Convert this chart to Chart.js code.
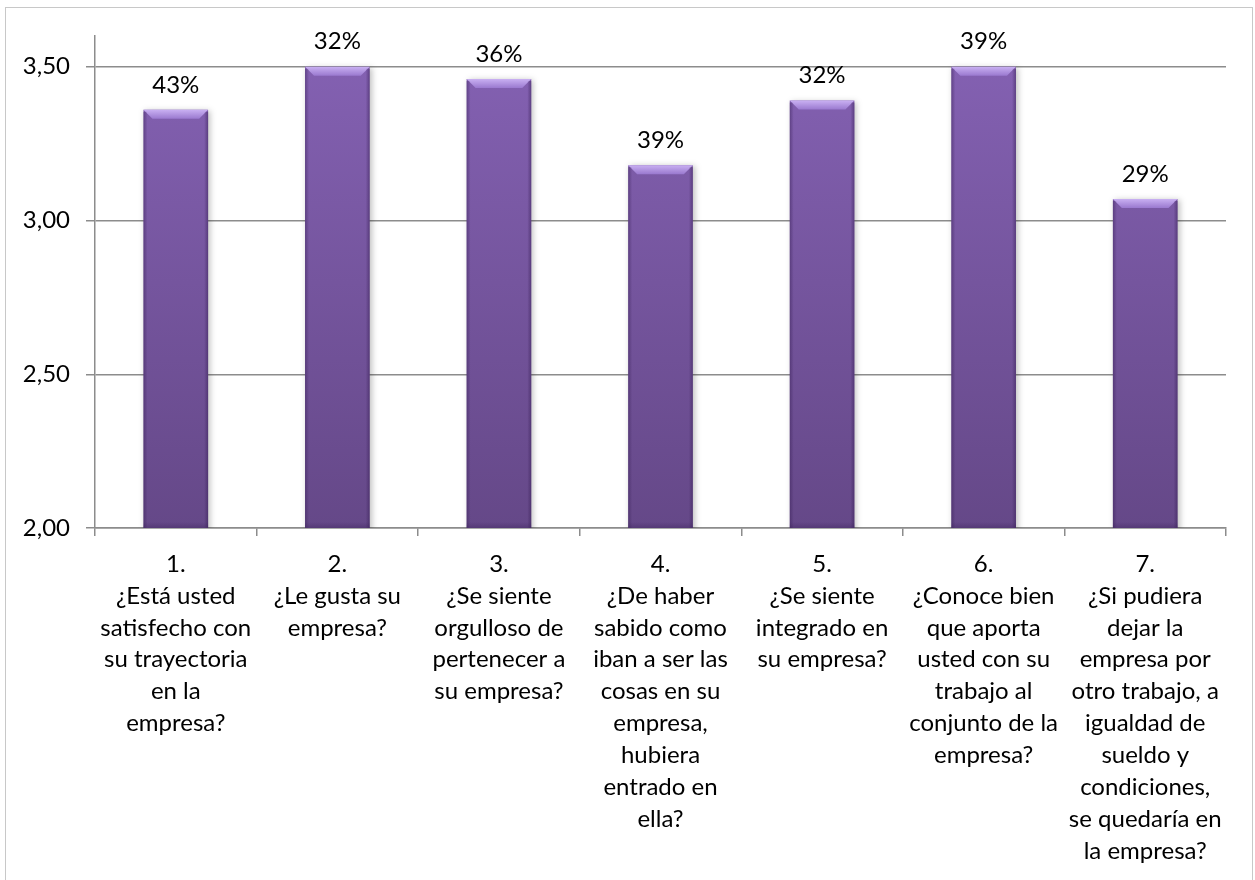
<!DOCTYPE html>
<html>
<head>
<meta charset="utf-8">
<script src="https://cdn.jsdelivr.net/npm/chart.js@4.4.1/dist/chart.umd.min.js"></script>
<style>
  html, body { margin: 0; padding: 0; background: #fff; }
  #wrap { position: relative; width: 1255px; height: 880px; overflow: hidden; }
  #frame { position: absolute; left: 5px; top: 7px; width: 1248px; height: 900px; border: 1px solid #c8c8c8; box-sizing: border-box; }
  canvas { position: absolute; left: 0; top: 0; }
</style>
</head>
<body>
<div id="wrap">
  <div id="frame"></div>
  <canvas id="c" width="1255" height="880"></canvas>
</div>
<script>
const categories = [
  ["1.", "¿Está usted", "satisfecho con", "su trayectoria", "en la", "empresa?"],
  ["2.", "¿Le gusta su", "empresa?"],
  ["3.", "¿Se siente", "orgulloso de", "pertenecer a", "su empresa?"],
  ["4.", "¿De haber", "sabido como", "iban a ser las", "cosas en su", "empresa,", "hubiera", "entrado en", "ella?"],
  ["5.", "¿Se siente", "integrado en", "su empresa?"],
  ["6.", "¿Conoce bien", "que aporta", "usted con su", "trabajo al", "conjunto de la", "empresa?"],
  ["7.", "¿Si pudiera", "dejar la", "empresa por", "otro trabajo, a", "igualdad de", "sueldo y", "condiciones,", "se quedaría en", "la empresa?"]
];
const averages = [3.36, 3.50, 3.46, 3.18, 3.39, 3.50, 3.07];
const percentLabels = ["43%", "32%", "36%", "39%", "32%", "39%", "29%"];
const yMin = 2.0;
const yMax = 3.6;
const yStep = 0.5;

const FONT = "Lato, 'Open Sans', sans-serif";
const FS = 24;

const bevelPlugin = {
  id: 'bevel',
  afterDatasetsDraw(chart) {
    const ctx = chart.ctx;
    const ca = chart.chartArea;
    const meta = chart.getDatasetMeta(0);
    meta.data.forEach((bar, i) => {
      const p = bar.getProps(['x', 'y', 'base', 'width'], true);
      const l = p.x - p.width / 2, r = p.x + p.width / 2, t = p.y;
      const b = Math.min(p.base, ca.bottom);
      const bv = 9;
      ctx.save();
      // top bevel
      const g = ctx.createLinearGradient(0, t, 0, t + bv);
      g.addColorStop(0, '#c9b0f2');
      g.addColorStop(1, '#9a79cf');
      ctx.fillStyle = g;
      ctx.beginPath();
      ctx.moveTo(l, t); ctx.lineTo(r, t); ctx.lineTo(r - bv, t + bv); ctx.lineTo(l + bv, t + bv); ctx.closePath();
      ctx.fill();
      // side edges
      const gl = ctx.createLinearGradient(l, 0, l + 4, 0);
      gl.addColorStop(0, 'rgba(55,30,85,0.45)');
      gl.addColorStop(1, 'rgba(55,30,85,0)');
      ctx.fillStyle = gl;
      ctx.fillRect(l, t + 2, 4, b - t - 2);
      const gr = ctx.createLinearGradient(r - 4, 0, r, 0);
      gr.addColorStop(0, 'rgba(55,30,85,0)');
      gr.addColorStop(1, 'rgba(55,30,85,0.5)');
      ctx.fillStyle = gr;
      ctx.fillRect(r - 4, t + 2, 4, b - t - 2);
      // bottom edge
      const gb = ctx.createLinearGradient(0, b - 6, 0, b);
      gb.addColorStop(0, 'rgba(55,30,85,0)');
      gb.addColorStop(1, 'rgba(55,30,85,0.35)');
      ctx.fillStyle = gb;
      ctx.fillRect(l, b - 6, r - l, 6);
      // percent label
      ctx.fillStyle = '#000';
      ctx.font = FS + 'px ' + FONT;
      ctx.textAlign = 'center';
      ctx.textBaseline = 'middle';
      ctx.fillText(percentLabels[i], p.x, t - 25);
      ctx.restore();
    });
  }
};

const shadowPlugin = {
  id: 'barShadow',
  beforeDatasetsDraw(chart) {
    const ctx = chart.ctx;
    ctx.save();
    ctx.shadowColor = 'rgba(0,0,0,0.25)';
    ctx.shadowBlur = 6;
    ctx.shadowOffsetX = 2;
    ctx.shadowOffsetY = 1;
  },
  afterDatasetsDraw(chart) {
    chart.ctx.restore();
  }
};

new Chart(document.getElementById('c'), {
  type: 'bar',
  data: {
    labels: categories,
    datasets: [{
      data: averages,
      backgroundColor(ctx) {
        const ca = ctx.chart.chartArea;
        if (!ca) return '#7a5aa8';
        const g = ctx.chart.ctx.createLinearGradient(0, ca.top, 0, ca.bottom);
        g.addColorStop(0, '#8562b4');
        g.addColorStop(1, '#654888');
        return g;
      },
      borderWidth: 0,
      categoryPercentage: 1.0,
      barPercentage: 0.40
    }]
  },
  options: {
    responsive: false,
    animation: false,
    devicePixelRatio: 1,
    layout: { padding: { top: 36, right: 29, left: 0, bottom: 0 } },
    plugins: { legend: { display: false }, tooltip: { enabled: false } },
    scales: {
      x: {
        grid: { display: true, drawOnChartArea: false, drawTicks: true, tickLength: 8, color: '#8c8c8c', lineWidth: 1.5, offset: true },
        border: { display: true, color: '#8c8c8c', width: 1.5 },
        ticks: { color: '#000', font: { family: FONT, size: FS, lineHeight: 1.33 }, padding: 12, maxRotation: 0, autoSkip: false },
        afterFit(s) { s.height = 880 - 528; }
      },
      y: {
        min: yMin,
        max: yMax,
        grid: { color: '#8c8c8c', lineWidth: 1.5, tickLength: 9 },
        border: { display: true, color: '#8c8c8c', width: 1.5 },
        ticks: {
          stepSize: yStep,
          includeBounds: false,
          color: '#000',
          padding: 16,
          font: { family: FONT, size: FS },
          callback: v => v.toFixed(2).replace('.', ',')
        },
        afterFit(s) { s.width = 95; }
      }
    }
  },
  plugins: [shadowPlugin, bevelPlugin]
});
</script>
</body>
</html>
